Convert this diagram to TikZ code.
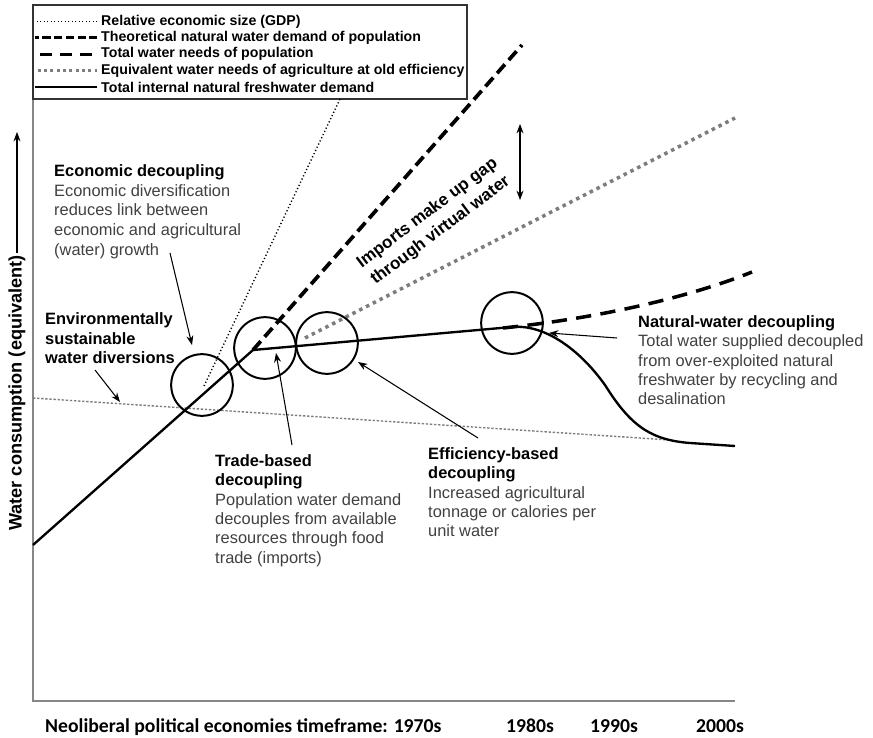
\documentclass[tikz,border=0pt]{standalone}
\usepackage{fontspec}
\setmainfont{Liberation Sans}
\newfontfamily\axisfont{Carlito}
\usepackage{xcolor}
\usetikzlibrary{positioning,arrows.meta}
\definecolor{notegray}{RGB}{64,64,64}
\definecolor{axisgray}{RGB}{135,135,135}
\definecolor{agrigray}{RGB}{125,125,125}
\newcommand{\hdr}[1]{\textcolor{black}{\textbf{#1}}}

\begin{document}
\begin{tikzpicture}[
  x=0.03cm, y=-0.03cm,
  note/.style={anchor=north west, align=left, inner sep=0pt, text=notegray,
               font=\fontsize{14}{16.6}\selectfont},
  legtext/.style={anchor=west, inner sep=0pt, font=\bfseries\fontsize{12.1}{14}\selectfont},
  axislab/.style={anchor=base, inner sep=0pt, font=\axisfont\bfseries\fontsize{16.8}{18}\selectfont},
  ring/.style={circle, draw, line width=1.7pt, minimum size=1.85cm, inner sep=0pt},
  arrow/.style={-{Stealth[length=8pt,width=6pt]}, line width=0.9pt},
  twoway/.style={{Stealth[length=8pt,width=6pt]}-{Stealth[length=8pt,width=6pt]}, line width=0.9pt},
  gdp/.style={line width=1.2pt, dash pattern=on 1pt off 2pt},
  theo/.style={line width=3.2pt, dash pattern=on 10pt off 5pt},
  needs/.style={line width=3pt, dash pattern=on 13pt off 8pt},
  agri/.style={line width=3pt, agrigray, dash pattern=on 3pt off 3.5pt},
  fresh/.style={line width=2pt},
  envline/.style={line width=1.2pt, agrigray, dash pattern=on 2pt off 1.5pt}
]
\useasboundingbox (0,0) rectangle (873,738);

% Axes
\draw[axisgray, line width=1.3pt] (33,99) -- (33,701) -- (735,701);

% Legend
\draw[black!80, line width=1.7pt] (33,5) rectangle (467,99);
\node[legtext] (l1) at (101,21.5) {Relative economic size (GDP)};
\node[legtext] (l2) at (101,37.9) {Theoretical natural water demand of population};
\node[legtext] (l3) at (101,54.3) {Total water needs of population};
\node[legtext] (l4) at (101,70.7) {Equivalent water needs of agriculture at old efficiency};
\node[legtext] (l5) at (101,87.1) {Total internal natural freshwater demand};
\draw[gdp] ([xshift=-3]l1.west) -- ++(-62,0);
\draw[theo, line width=2.4pt, dash pattern=on 7pt off 3pt] ([xshift=-3]l2.west) -- ++(-62,0);
\draw[needs, line width=2.4pt, dash pattern=on 10pt off 7pt] ([xshift=-8]l3.west) -- ++(-57,0);
\draw[agri, line width=2.4pt, dash pattern=on 2.4pt off 3pt] ([xshift=-3]l4.west) -- ++(-62,0);
\draw[fresh, line width=1.4pt] ([xshift=-3]l5.west) -- ++(-62,0);

% Curves
\draw[envline] (33,398) -- (670,440);
\draw[gdp] (204,386) -- (340,99);
\draw[agri] (305,338) -- (735,118);
\draw[theo] (253,350) -- (522,45);
\draw[needs] (503,328) .. controls (600,318) and (690,297) .. (752,272);
\draw[fresh] (33,545) -- (253,350) -- (512,327)
  .. controls (545,324) and (580,350) .. (605,385)
  .. controls (630,425) and (650,440) .. (690,443) -- (735,446);

% Circles
\node[ring] (c1) at (202,385) {};
\node[ring] (c2) at (265,348) {};
\node[ring] (c3) at (327,343) {};
\node[ring] (c4) at (512,323) {};

% Notes
\node[note, font=\fontsize{14}{17}\selectfont] (econ) at (54,164) {\hdr{Economic decoupling}\\Economic diversification\\reduces link between\\economic and agricultural\\(water) growth};
\node[note, text=black, font=\bfseries\fontsize{14}{17}\selectfont] (env) at (45,312) {Environmentally\\sustainable\\water diversions};
\node[note] (trade) at (215,454) {\hdr{Trade-based}\\\hdr{decoupling}\\Population water demand\\decouples from available\\resources through food\\trade (imports)};
\node[note] (eff) at (428,447) {\hdr{Efficiency-based}\\\hdr{decoupling}\\Increased agricultural\\tonnage or calories per\\unit water};
\node[note] (nat) at (638,315) {\hdr{Natural-water decoupling}\\Total water supplied decoupled\\from over-exploited natural\\freshwater by recycling and\\desalination};
\node[rotate=37, align=center, inner sep=0pt, font=\bfseries\fontsize{14.5}{18.5}\selectfont] (imp) at (434,222) {Imports make up gap\\through virtual water};

% Arrows
\coordinate (econtail) at (170,253);
\coordinate (econhead) at (192,345);
\coordinate (envtail) at (95,370);
\coordinate (envhead) at (120,402);
\coordinate (tradetail) at (292,445);
\coordinate (tradehead) at (276,353);
\coordinate (efftail) at (478,438);
\coordinate (effhead) at (358,362);
\coordinate (nattail) at (617,338);
\coordinate (nathead) at (549,333);
\coordinate (gaptop) at (520,124);
\coordinate (gapbot) at (520,200);
\draw[arrow] (econtail) -- (econhead);
\draw[arrow] (envtail) -- (envhead);
\draw[arrow] (tradetail) -- (tradehead);
\draw[arrow] (efftail) -- (effhead);
\draw[arrow] (nattail) -- (nathead);
\draw[twoway] (gaptop) -- (gapbot);

% Axis labels
\node[rotate=90, inner sep=2pt, font=\bfseries\fontsize{15.5}{18}\selectfont] (ylab) at (17,393) {Water consumption (equivalent)};
\coordinate (ytip) at (0,132);
\draw[arrow, line width=1.1pt] (ylab.east) -- (ylab.east |- ytip);
\node[axislab, anchor=base west] (frame) at (45,732) {Neoliberal political economies timeframe: 1970s};
\node[axislab] (d80) at (530,732) {1980s};
\node[axislab] (d90) at (614,732) {1990s};
\node[axislab] (d00) at (720,732) {2000s};
\end{tikzpicture}
\end{document}
